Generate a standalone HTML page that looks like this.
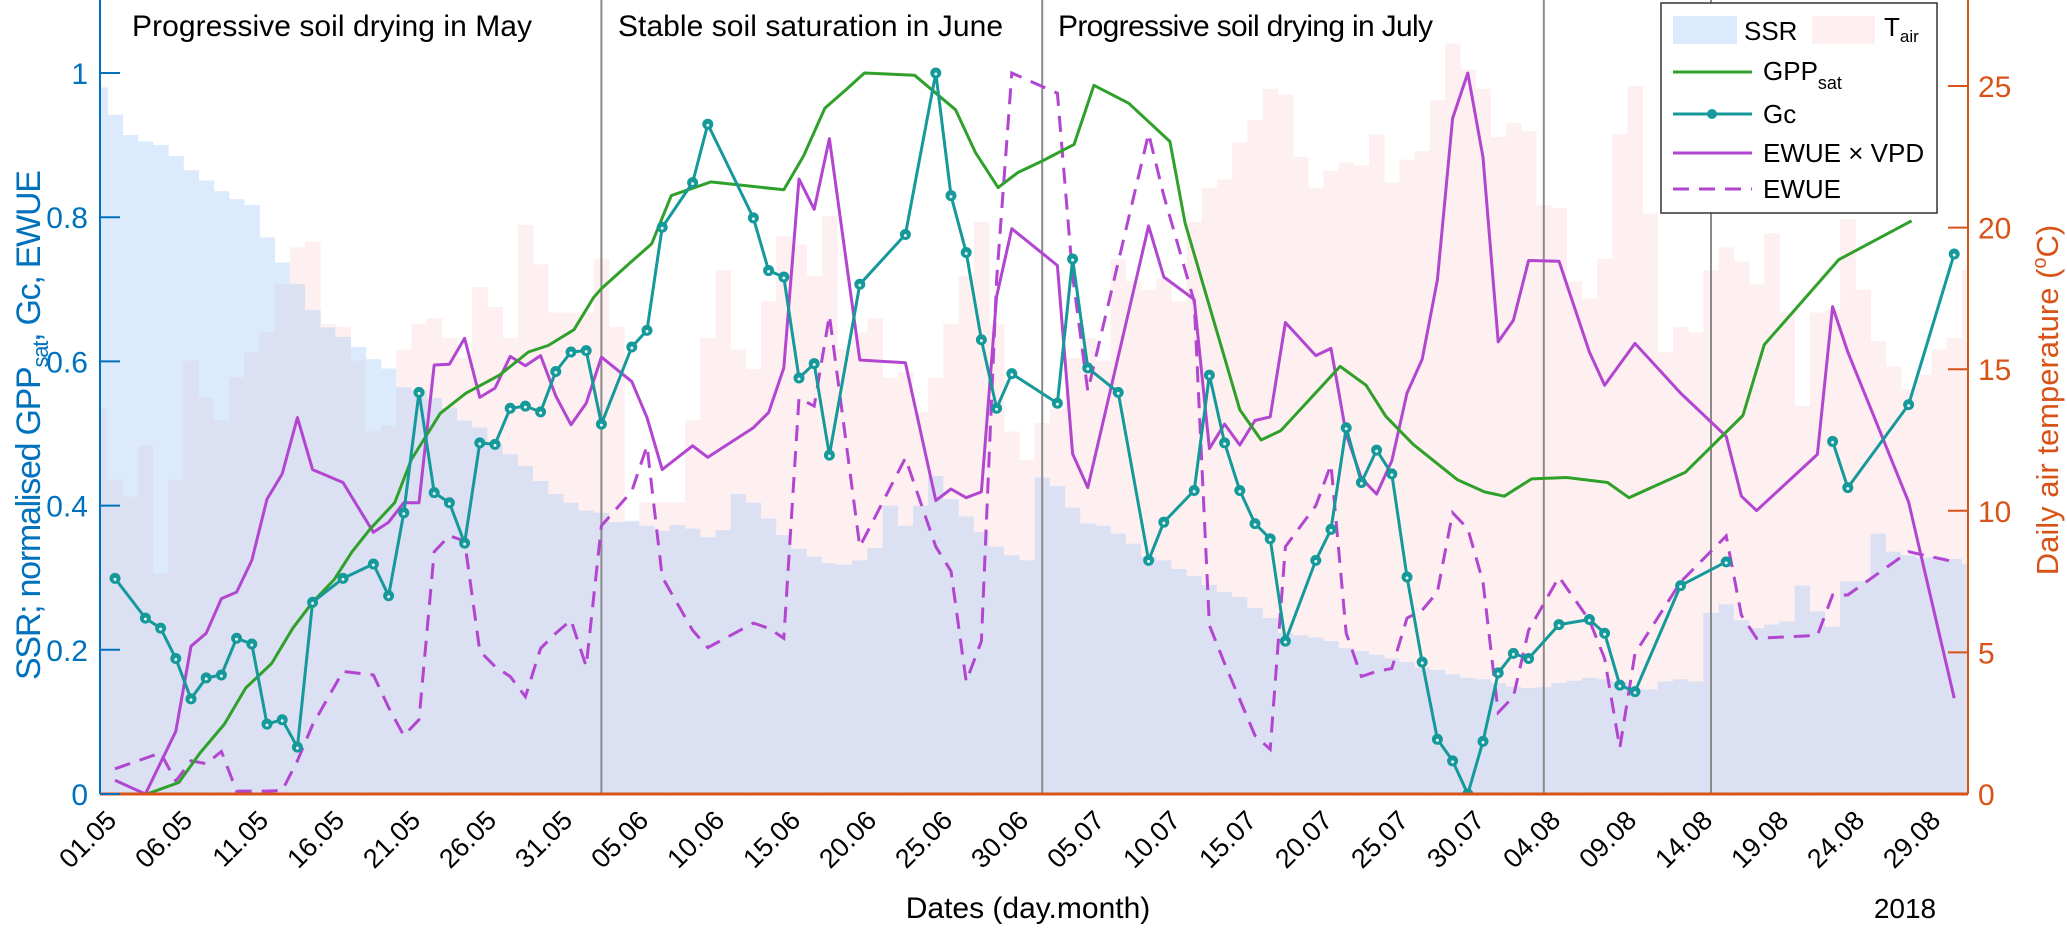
<!DOCTYPE html>
<html><head><meta charset="utf-8">
<style>
html,body{margin:0;padding:0;background:#fff;}
svg{display:block;font-family:"Liberation Sans",sans-serif;}
</style></head>
<body>
<svg id="chart" xmlns="http://www.w3.org/2000/svg" width="2067" height="929" viewBox="0 0 2067 929">
  <defs><clipPath id="plotclip"><rect x="100" y="0" width="1868" height="794"/></clipPath></defs>
  <g id="bars" clip-path="url(#plotclip)"></g>
  <g id="seps"></g>
  <g id="lines" clip-path="url(#plotclip)"></g>
  <g id="axes"></g>
  <g font-size="30" fill="#000">
    <text x="132" y="36" textLength="400">Progressive soil drying in May</text>
    <text x="618" y="36" textLength="385">Stable soil saturation in June</text>
    <text x="1058" y="36" textLength="375">Progressive soil drying in July</text>
  </g>
  <g>
    <rect x="1661" y="3" width="276" height="210" fill="#fff" stroke="#333" stroke-width="1.5"/>
    <rect x="1673" y="16" width="64" height="28" fill="#dbeafc"/>
    <text x="1744" y="40" font-size="26">SSR</text>
    <rect x="1812" y="16" width="63" height="28" fill="#fef0f0"/>
    <text x="1884" y="36" font-size="26">T<tspan font-size="17" dy="6">air</tspan></text>
    <line x1="1673" y1="72" x2="1752" y2="72" stroke="#2fa12a" stroke-width="3"/>
    <text x="1763" y="80" font-size="26">GPP<tspan font-size="18" dy="9">sat</tspan></text>
    <line x1="1673" y1="114" x2="1752" y2="114" stroke="#15999a" stroke-width="3"/>
    <circle cx="1712" cy="114" r="5" fill="#15999a"/>
    <text x="1763" y="123" font-size="26">Gc</text>
    <line x1="1673" y1="153" x2="1752" y2="153" stroke="#b246d1" stroke-width="3"/>
    <text x="1763" y="162" font-size="26">EWUE × VPD</text>
    <line x1="1673" y1="189" x2="1752" y2="189" stroke="#b246d1" stroke-width="3" stroke-dasharray="16 10"/>
    <text x="1763" y="198" font-size="26">EWUE</text>
  </g>
  <text transform="translate(40,425) rotate(-90)" text-anchor="middle" font-size="34" fill="#0072bd" textLength="510">SSR; normalised GPP<tspan font-size="22" dy="8">sat</tspan><tspan dy="-8">, Gc, EWUE</tspan></text>
  <text transform="translate(2058,400) rotate(-90)" text-anchor="middle" font-size="31" fill="#d95319">Daily air temperature (<tspan font-size="20" dy="-12">o</tspan><tspan dy="12">C)</tspan></text>
  <text x="1028" y="918" text-anchor="middle" font-size="30" fill="#000">Dates (day.month)</text>
  <text x="1905" y="918" text-anchor="middle" font-size="28" fill="#000">2018</text>
</svg>
<script>
// ---- data ----
const barDays = [-1,0,1,2,3,4,5,6,7,8,9,10,11,12,13,14,15,16,17,18,19,20,21,22,23,24,25,26,27,28,29,30,31,32,33,34,35,36,37,38,39,40,41,42,43,44,45,46,47,48,49,50,51,52,53,54,55,56,57,58,59,60,61,62,63,64,65,66,67,68,69,70,71,72,73,74,75,76,77,78,79,80,81,82,83,84,85,86,87,88,89,90,91,92,93,94,95,96,97,98,99,100,101,102,103,104,105,106,107,108,109,110,111,112,113,114,115,116,117,118,119,120,121,122];
const ssrVals = [.98,.942,.914,.905,.90,.885,.865,.851,.836,.825,.817,.772,.737,.707,.671,.647,.634,.620,.603,.590,.564,.56,.549,.535,.518,.508,.485,.471,.455,.434,.416,.404,.393,.39,.377,.379,.372,.365,.373,.368,.356,.366,.416,.404,.382,.359,.340,.329,.320,.318,.324,.341,.400,.372,.400,.441,.409,.385,.363,.343,.331,.324,.439,.427,.397,.375,.372,.361,.347,.329,.324,.312,.302,.290,.280,.273,.258,.244,.223,.220,.217,.212,.202,.198,.193,.188,.183,.175,.172,.166,.161,.159,.154,.149,.147,.148,.154,.157,.161,.159,.156,.145,.145,.156,.159,.156,.251,.263,.241,.230,.235,.239,.289,.253,.232,.295,.295,.361,.336,.331,.328,.329,.326,.319];
const tairVals = [13.6,11.1,10.5,12.3,7.8,11.1,15.3,14.0,13.2,14.7,15.6,16.3,18.0,19.3,19.5,16.6,16.5,15.3,12.8,13.0,15.7,16.6,16.8,16.1,15.4,17.9,17.2,16.1,20.1,18.7,17.0,17.0,17.0,18.9,16.5,9.6,10.3,10.3,10.3,13.2,16.1,18.5,15.7,15.0,17.4,19.7,19.4,18.3,20.4,15.7,16.3,16.8,14.7,14.9,13.5,14.7,16.6,18.3,20.2,16.6,12.8,11.8,13.1,13.6,15.4,16.1,15.3,18.9,18.1,17.8,18.2,17.4,20.2,21.4,21.7,23.0,23.8,24.9,24.7,22.5,21.4,22.0,22.3,22.2,23.3,21.6,22.4,22.7,24.5,26.5,25.6,24.9,23.2,23.7,23.4,20.8,20.7,18.1,17.5,18.9,23.3,25.0,20.5,15.6,16.5,16.3,18.5,19.3,18.8,18.0,19.8,17.0,13.7,17.0,17.1,20.3,17.8,16.0,15.1,14.3,14.8,15.7,16.1,18.5];

const gppDays = [2.1,4.2,5.6,7.2,8.6,10.3,11.7,13.0,14.4,15.6,16.8,18.4,19.5,21.4,23.1,25.3,27.2,28.5,30.2,31.5,32.0,33.9,35.3,36.6,39.2,44.0,45.3,46.7,48.1,49.3,52.6,55.3,56.6,58.1,59.4,61.0,63.1,64.4,66.7,69.4,70.4,72.4,74.0,75.4,76.7,80.6,82.3,83.6,85.4,88.3,90.1,91.4,93.2,95.5,98.2,99.6,103.3,107.1,108.5,113.4,118.2];
const gppVals = [0,.016,.057,.097,.147,.181,.230,.266,.297,.336,.368,.404,.464,.528,.556,.581,.613,.622,.644,.689,.701,.737,.763,.830,.849,.838,.885,.951,.977,1.0,.997,.949,.890,.841,.862,.878,.901,.983,.958,.905,.792,.648,.533,.491,.504,.593,.567,.524,.485,.436,.419,.413,.437,.439,.432,.411,.446,.525,.623,.741,.795];

const gcDays = [0,2,3,4,5,6,7,8,9,10,11,12,13,15,17,18,19,20,21,22,23,24,25,26,27,28,29,30,31,32,34,35,36,38,39,42,43,44,45,46,47,49,52,54,55,56,57,58,59,62,63,64,66,68,69,71,72,73,74,75,76,77,79,80,81,82,83,84,85,86,87,88,89,90,91,92,93,95,97,98,99,100,103,106,110,113,114,118,121];
const gcVals = [.299,.244,.230,.188,.132,.161,.165,.216,.208,.097,.103,.065,.266,.299,.319,.275,.390,.557,.418,.404,.348,.487,.485,.535,.538,.530,.586,.613,.615,.513,.620,.643,.786,.848,.929,.799,.726,.717,.577,.597,.470,.707,.776,1.0,.830,.751,.630,.535,.583,.542,.742,.591,.557,.324,.377,.421,.581,.487,.421,.375,.354,.212,.324,.367,.508,.432,.477,.444,.301,.183,.076,.046,0,.073,.168,.195,.188,.235,.242,.223,.151,.142,.289,.322,null,.489,.425,.540,.749];

const ewueVpdDays = [0,2,4,5,6,7,8,9,10,11,12,13,15,17,18,19,20,21,22,23,24,25,26,27,28,29,30,31,32,34,35,36,38,39,42,43,44,45,46,47,49,52,54,55,56,57,58,59,62,63,64,68,69,71,72,73,74,75,76,77,79,80,81,82,83,84,85,86,87,88,89,90,91,92,93,95,97,98,100,103,106,107,108,112,113,114,118,121];
const ewueVpdVals = [.019,0,.087,.205,.223,.271,.280,.324,.409,.444,.522,.450,.432,.363,.377,.404,.404,.595,.596,.632,.550,.563,.607,.594,.608,.552,.512,.542,.606,.572,.522,.450,.483,.467,.508,.529,.591,.853,.811,.909,.602,.598,.407,.423,.411,.419,.690,.784,.733,.472,.425,.788,.717,.686,.479,.513,.484,.518,.523,.654,.608,.618,.499,.438,.416,.462,.556,.603,.713,.937,1.0,.883,.627,.657,.740,.739,.613,.567,.625,.556,.496,.413,.393,.471,.676,.613,.405,.133];

const ewueDays = [0,3,4,5,6,7,8,9,10,11,12,13,15,17,18,19,20,21,22,23,24,25,26,27,28,29,30,31,32,34,35,36,38,39,42,43,44,45,46,47,49,52,54,55,56,57,58,59,62,63,64,68,69,71,72,73,74,75,76,77,79,80,81,82,83,84,85,86,87,88,89,90,91,92,93,95,97,98,99,100,103,106,107,108,112,113,114,118,121];
const ewueVals = [.035,.057,.018,.046,.042,.059,.004,.004,.004,.005,.046,.096,.170,.165,.12,.081,.103,.336,.358,.351,.198,.177,.163,.135,.202,.223,.241,.177,.372,.42,.483,.301,.227,.203,.237,.230,.216,.549,.538,.664,.343,.466,.343,.309,.156,.212,.713,1.0,.972,.719,.559,.916,.83,.683,.234,.181,.131,.081,.062,.343,.400,.457,.223,.163,.170,.174,.244,.255,.280,.390,.368,.294,.113,.135,.227,.301,.241,.188,.064,.195,.294,.358,.248,.216,.220,.276,.276,.336,.322];

const separatorDays = [32,61,94,105];
const leftTicks = [0,0.2,0.4,0.6,0.8,1];
const leftTickLabels = ["0","0.2","0.4","0.6","0.8","1"];
const rightTicks = [0,5,10,15,20,25];
const dateTickDays = [0,5,10,15,20,25,30,35,40,45,50,55,60,65,70,75,80,85,90,95,100,105,110,115,120];
const dateTickLabels = ["01.05","06.05","11.05","16.05","21.05","26.05","31.05","05.06","10.06","15.06","20.06","25.06","30.06","05.07","10.07","15.07","20.07","25.07","30.07","04.08","09.08","14.08","19.08","24.08","29.08"];

// ---- scales ----
const NS = "http://www.w3.org/2000/svg";
const X = d => 115 + 15.2 * d;
const Y = v => 794 - 721 * v;
const YT = t => 794 - 28.32 * t;
function mk(tag, attrs, parent) {
  const e = document.createElementNS(NS, tag);
  for (const k in attrs) e.setAttribute(k, attrs[k]);
  parent.appendChild(e);
  return e;
}

// ---- bars ----
const gb = document.getElementById('bars');
barDays.forEach((d, i) => {
  const x0 = X(d) - 7.6, w = 15.6;
  const ys = Y(ssrVals[i]), yt = YT(tairVals[i]);
  const pr = mk('rect', {x: x0, y: yt, width: w, height: 794 - yt, fill: '#fef0f0'}, gb);
  
  
  const br = mk('rect', {x: x0, y: ys, width: w, height: 794 - ys, fill: '#dbeafc'}, gb);
  
  
  const top = Math.max(ys, yt);
  const ov = mk('rect', {x: x0, y: top, width: w, height: 794 - top, fill: '#dbe0f2'}, gb);
  
  
});

// ---- separators ----
const gs = document.getElementById('seps');
separatorDays.forEach(d => {
  const l = mk('line', {x1: X(d), y1: 0, x2: X(d), y2: 794, stroke: '#8a8a8a', 'stroke-width': 2}, gs);
  
  
});

// ---- lines ----
const gl = document.getElementById('lines');
function pathFor(days, vals) {
  let s = '', pen = false;
  days.forEach((d, i) => {
    const v = vals[i];
    if (v === null) { pen = false; return; }
    s += (pen ? 'L' : 'M') + X(d).toFixed(1) + ' ' + Y(v).toFixed(1) + ' ';
    pen = true;
  });
  return s;
}
const pe = mk('path', {d: pathFor(ewueDays, ewueVals), fill: 'none', stroke: '#b246d1', 'stroke-width': 3, 'stroke-dasharray': '16 10'}, gl);


const pv = mk('path', {d: pathFor(ewueVpdDays, ewueVpdVals), fill: 'none', stroke: '#b246d1', 'stroke-width': 3, 'stroke-linejoin': 'round'}, gl);


const pg = mk('path', {d: pathFor(gppDays, gppVals), fill: 'none', stroke: '#2fa12a', 'stroke-width': 3, 'stroke-linejoin': 'round'}, gl);


const pc = mk('path', {d: pathFor(gcDays, gcVals), fill: 'none', stroke: '#15999a', 'stroke-width': 3, 'stroke-linejoin': 'round'}, gl);


gcDays.forEach((d, i) => {
  if (gcVals[i] === null) return;
  const c = mk('circle', {cx: X(d), cy: Y(gcVals[i]), r: 5, fill: '#15999a', stroke: '#15999a', 'stroke-width': 1}, gl);
  
  
  const c2 = mk('circle', {cx: X(d), cy: Y(gcVals[i]) + 1, r: 1.5, fill: '#e8f6f6'}, gl);
  
  
});

// ---- axes ----
const ga = document.getElementById('axes');
const la = mk('line', {x1: 100, y1: 0, x2: 100, y2: 794, stroke: '#0072bd', 'stroke-width': 2}, ga);


const ra = mk('line', {x1: 1968, y1: 0, x2: 1968, y2: 794, stroke: '#d95319', 'stroke-width': 2}, ga);


const ba = mk('line', {x1: 100, y1: 794, x2: 1968, y2: 794, stroke: '#d95319', 'stroke-width': 3}, ga);


leftTicks.forEach((v, i) => {
  const t = mk('line', {x1: 100, y1: Y(v), x2: 120, y2: Y(v), stroke: '#0072bd', 'stroke-width': 2}, ga);
  
  
  const tx = mk('text', {x: 88, y: Y(v) + 11, 'text-anchor': 'end', 'font-size': 30, fill: '#0072bd'}, ga);
  tx.textContent = leftTickLabels[i];
  
  
});
rightTicks.forEach(t => {
  const tk = mk('line', {x1: 1948, y1: YT(t), x2: 1968, y2: YT(t), stroke: '#d95319', 'stroke-width': 2}, ga);
  
  
  const tx = mk('text', {x: 1978, y: YT(t) + 11, 'font-size': 30, fill: '#d95319'}, ga);
  tx.textContent = String(t);
  
  
});
dateTickDays.forEach((d, i) => {
  const x = X(d) + 3, y = 822;
  const tx = mk('text', {x: x, y: y, 'text-anchor': 'end', 'font-size': 27, fill: '#000', transform: 'rotate(-45 ' + x + ' ' + y + ')'}, ga);
  tx.textContent = dateTickLabels[i];
  
  
});
</script>
</body></html>
